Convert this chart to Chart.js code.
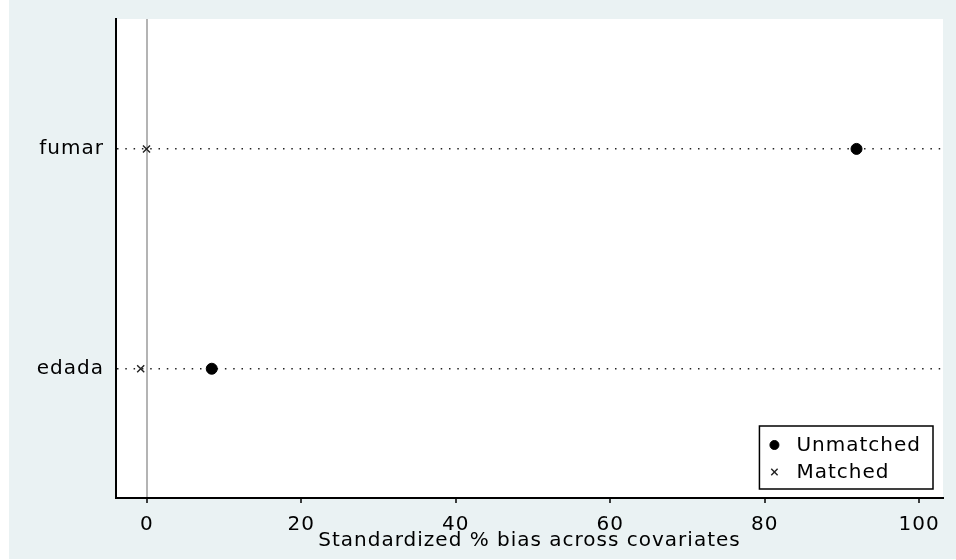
<!DOCTYPE html>
<html><head><meta charset="utf-8">
<script src="https://cdn.jsdelivr.net/npm/chart.js@4"></script>
<style>html,body{margin:0;padding:0;background:#fff;}canvas{display:block;}</style>
</head><body>
<canvas id="c" width="956" height="560"></canvas>
<script>
const categories = ['edada', 'fumar'];
const unmatched = [8.4, 91.9];
const matched = [-0.8, -0.05];
const xTickValues = [0, 20, 40, 60, 80, 100];
const seriesLabels = ['Unmatched', 'Matched'];
const xTitle = 'Standardized % bias across covariates';

const FONT = {family: "'DejaVu Sans', sans-serif", size: 20};
const SPACING = '1px';

const bgPlugin = {
  id: 'bg',
  beforeUpdate(chart) { chart.ctx.letterSpacing = SPACING; },
  beforeDraw(chart) {
    const {ctx, chartArea: a, width, height} = chart;
    ctx.save();
    ctx.fillStyle = '#fff'; ctx.fillRect(0, 0, width, height);
    ctx.fillStyle = '#eaf2f3'; ctx.fillRect(9, 0, width - 9, 559);
    ctx.fillStyle = '#fff'; ctx.fillRect(a.left, a.top, a.right - a.left, a.bottom - a.top);
    ctx.restore();
    ctx.letterSpacing = SPACING;
  }
};

const legendPlugin = {
  id: 'boxLegend',
  afterDraw(chart) {
    const {ctx, chartArea: a} = chart;
    ctx.save();
    ctx.letterSpacing = SPACING;
    ctx.font = FONT.size + 'px ' + FONT.family;
    const items = chart.data.datasets;
    const textW = Math.max(...items.map(d => ctx.measureText(d.label).width));
    const padL = 15, gap = 22, padR = 12, rowH = 27;
    const w = padL + gap + textW + padR;
    const h = 63;
    const x = a.right - 10 - w, y = a.bottom - 9 - h;
    ctx.fillStyle = '#fff'; ctx.fillRect(x, y, w, h);
    ctx.strokeStyle = '#000'; ctx.lineWidth = 1.5; ctx.strokeRect(x, y, w, h);
    items.forEach((d, i) => {
      const cy = y + 19 + i * rowH;
      ctx.fillStyle = d.backgroundColor; ctx.strokeStyle = d.borderColor; ctx.lineWidth = d.borderWidth;
      Chart.helpers.drawPoint(ctx, {pointStyle: d.pointStyle, radius: d.legendRadius, borderWidth: d.borderWidth, rotation: 0}, x + padL, cy);
      ctx.fillStyle = '#000';
      ctx.textBaseline = 'middle'; ctx.textAlign = 'left';
      ctx.fillText(d.label, x + padL + gap, cy + 1);
    });
    ctx.restore();
  }
};

new Chart(document.getElementById('c'), {
  type: 'scatter',
  data: {
    datasets: [
      {label: seriesLabels[0], data: unmatched.map((v, i) => ({x: v, y: i + 1})), pointStyle: 'circle', pointRadius: 5.5,
       backgroundColor: '#000', borderColor: '#000', borderWidth: 1, legendRadius: 4.5},
      {label: seriesLabels[1], data: matched.map((v, i) => ({x: v, y: i + 1})), pointStyle: 'crossRot', pointRadius: 5,
       backgroundColor: '#222', borderColor: '#222', borderWidth: 1.4, legendRadius: 4.5}
    ]
  },
  options: {
    responsive: false, animation: false, events: [],
    layout: {padding: {top: 19, right: 13, left: 0, bottom: 0}},
    plugins: {legend: {display: false}, tooltip: {enabled: false}},
    scales: {
      x: {
        type: 'linear', min: -4, max: 103.1,
        afterBuildTicks: s => { s.ticks = xTickValues.map(v => ({value: v})); },
        afterFit: s => { s.height = 62; s.paddingLeft = 0; s.paddingRight = 0; },
        grid: {color: c => (c.tick && c.tick.value === 0) ? '#b4b4b4' : 'rgba(0,0,0,0)', lineWidth: 2,
               tickColor: '#000', tickWidth: 1.5, tickLength: 5},
        border: {display: true, color: '#000', width: 2},
        ticks: {font: FONT, color: '#000', padding: 10, maxRotation: 0},
        title: {display: true, text: xTitle, font: FONT, color: '#000', padding: {top: 0, bottom: 7}}
      },
      y: {
        type: 'linear', min: 0.412, max: 2.591,
        afterBuildTicks: s => { s.ticks = categories.map((c, i) => ({value: i + 1})); },
        afterFit: s => { s.width = 116; s.paddingTop = 0; s.paddingBottom = 0; },
        grid: {color: '#222', lineWidth: 1.5, drawTicks: false},
        border: {display: true, color: '#000', width: 2, dash: [1.5, 6.8]},
        ticks: {font: FONT, color: '#000', padding: 12, callback: v => categories[Math.round(v) - 1] ?? ''}
      }
    }
  },
  plugins: [bgPlugin, legendPlugin]
});
</script>
</body></html>
